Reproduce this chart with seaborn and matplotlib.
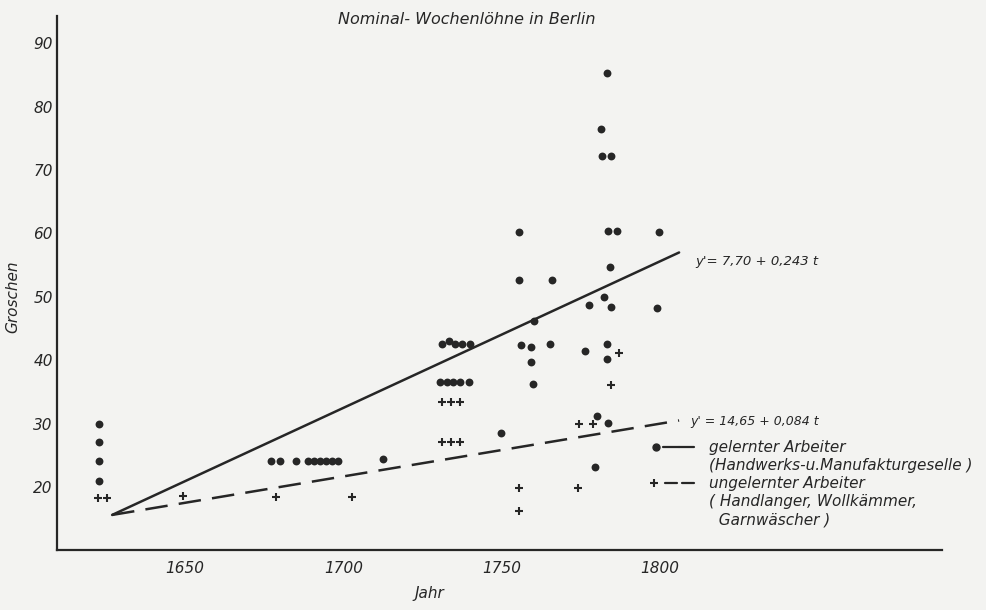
import matplotlib
matplotlib.use("Agg")
import matplotlib.pyplot as plt
from matplotlib.lines import Line2D
from matplotlib.legend_handler import HandlerTuple
import seaborn as sns
import pandas as pd

# gelernter Arbeiter (Punkte)
skilled_year = [1623, 1623, 1623, 1623,
                1677.1, 1680.0, 1685.0, 1688.9, 1690.7, 1692.6, 1694.5, 1696.3, 1698.2,
                1712.4,
                1731.1, 1733.2, 1735.3, 1737.4, 1740.0,
                1730.5, 1732.6, 1734.7, 1736.8, 1739.8,
                1749.7,
                1755.3, 1755.3, 1765.8, 1760.3, 1756.0, 1759.3, 1765.3, 1759.2, 1759.8,
                1783.2, 1781.4, 1781.6, 1784.5, 1783.7, 1786.5, 1799.5, 1784.2,
                1782.4, 1777.7, 1784.5, 1799.1, 1776.3, 1783.2, 1783.2,
                1780.0, 1783.7, 1779.5]
skilled_wage = [30, 27.1, 24.1, 20.9,
                24.1, 24.1, 24.1, 24.1, 24.1, 24.1, 24.1, 24.1, 24.1,
                24.4,
                42.5, 43.0, 42.5, 42.5, 42.5,
                36.5, 36.5, 36.5, 36.5, 36.5,
                28.5,
                60.3, 52.6, 52.7, 46.2, 42.4, 42.1, 42.5, 39.7, 36.3,
                85.3, 76.4, 72.2, 72.2, 60.4, 60.4, 60.3, 54.7,
                50.0, 48.7, 48.4, 48.3, 41.5, 42.5, 40.2,
                31.2, 30.1, 23.2]

# ungelernter Arbeiter (Kreuze)
unskilled_year = [1622.4, 1625.3, 1649.5, 1678.6, 1702.8,
                  1731.1, 1733.9, 1736.8,
                  1731.1, 1733.9, 1736.8,
                  1755.6, 1755.6, 1774.2, 1774.5, 1778.7, 1787.0, 1784.4]
unskilled_wage = [18.2, 18.2, 18.6, 18.4, 18.4,
                  33.4, 33.4, 33.4,
                  27.1, 27.1, 27.1,
                  19.9, 16.3, 19.9, 30.0, 30.0, 41.1, 36.1]

# Trendlinien
trend_year = [1627, 1806]
trend_skilled = [15.6, 57.0]
trend_unskilled = [15.6, 30.5]

x_ticks = [1650, 1700, 1750, 1800]
y_ticks = [20, 30, 40, 50, 60, 70, 80, 90]

sns.set_theme(style="white")
plt.rcParams["font.family"] = ["DejaVu Sans"]
plt.rcParams["font.style"] = "italic"

ink = "#262626"
paper = "#f3f3f1"

fig = plt.figure(figsize=(9.86, 6.10), dpi=100, facecolor=paper)
ax = fig.add_axes([57 / 986, 60 / 610, 885 / 986, 534 / 610])
ax.set_facecolor(paper)

df_s = pd.DataFrame({"Jahr": skilled_year, "Groschen": skilled_wage})
df_u = pd.DataFrame({"Jahr": unskilled_year, "Groschen": unskilled_wage})

sns.scatterplot(data=df_s, x="Jahr", y="Groschen", ax=ax, color=ink,
                s=32, linewidth=0, legend=False, zorder=3)
sns.scatterplot(data=df_u, x="Jahr", y="Groschen", ax=ax, color=ink,
                marker="+", s=30, linewidth=1.5, legend=False, zorder=3)

sns.lineplot(x=trend_year, y=trend_skilled, ax=ax, color=ink, lw=1.8)
sns.lineplot(x=trend_year, y=trend_unskilled, ax=ax, color=ink, lw=1.8)
ax.lines[-1].set_dashes([9, 4.5])

ax.set_xlim(1609.6, 1889)
ax.set_ylim(10.07, 94.3)
ax.set_xticks(x_ticks)
ax.set_yticks(y_ticks)
sns.despine(ax=ax)
for s in ["left", "bottom"]:
    ax.spines[s].set_color(ink)
    ax.spines[s].set_linewidth(1.6)
ax.tick_params(direction="in", length=7, width=1.5, colors=ink, labelsize=11)
ax.tick_params(axis="x", pad=8)
ax.tick_params(axis="y", pad=3)

ax.set_xlabel("Jahr", fontsize=11, color=ink)
ax.set_ylabel("Groschen", fontsize=11, color=ink)
ax.xaxis.set_label_coords(0.421, -0.067)
ax.yaxis.set_label_coords(-0.042, 0.474)

fig.text(467 / 986, 1 - 20 / 610, "Nominal- Wochenlöhne in Berlin",
         ha="center", va="center", fontsize=11.5, color=ink)

ax.text(1811, 55.6, "y'= 7,70 + 0,243 t", ha="left", va="center",
        fontsize=9.5, color=ink)
ax.text(1809.5, 30.3, "y' = 14,65 + 0,084 t", ha="left", va="center",
        fontsize=9, color=ink)

h_s = (Line2D([], [], marker="o", ls="none", color=ink, ms=5),
       Line2D([], [], color=ink, lw=1.6),
       Line2D([], [], color=ink, lw=1.6))
h_u = (Line2D([], [], marker="+", ls="none", color=ink, ms=6, mew=1.5),
       Line2D([], [], color=ink, lw=1.6),
       Line2D([], [], color=ink, lw=1.6))
blank = Line2D([], [], ls="none")
labels = ["gelernter Arbeiter", "(Handwerks-u.Manufakturgeselle )",
          "ungelernter Arbeiter", "( Handlanger, Wollkämmer,",
          "  Garnwäscher )"]
leg = ax.legend([h_s, blank, h_u, blank, Line2D([], [], ls="none")], labels,
                handler_map={h_s: HandlerTuple(ndivide=3, pad=0),
                             h_u: HandlerTuple(ndivide=3, pad=0.35)},
                loc="upper left", bbox_to_anchor=(0.668, 0.206),
                frameon=False, fontsize=11, borderpad=0, borderaxespad=0,
                handlelength=3.0, handletextpad=1.0, labelspacing=0.2)
for t in leg.get_texts():
    t.set_color(ink)

fig.savefig("out.png", dpi=100, facecolor=paper)
